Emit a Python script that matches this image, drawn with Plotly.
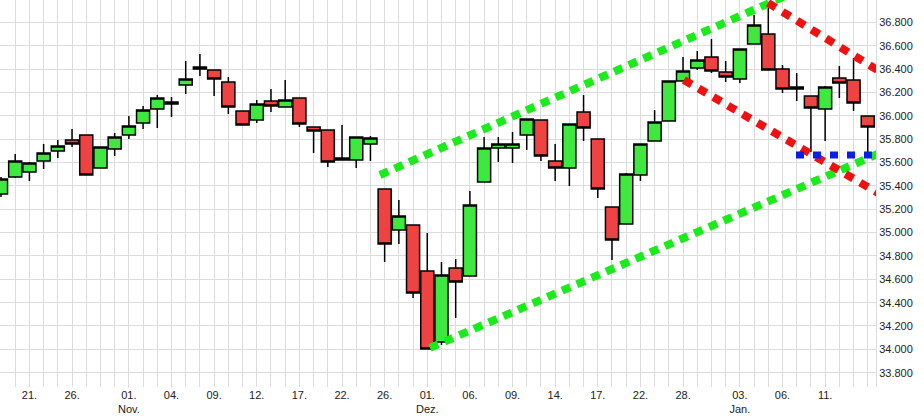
import plotly.graph_objects as go

# Trading days (Dow Jones, Oct 2021 - Jan 2022)
dates = [
    "2021-10-19", "2021-10-20", "2021-10-21", "2021-10-22", "2021-10-25", "2021-10-26",
    "2021-10-27", "2021-10-28", "2021-10-29",
    "2021-11-01", "2021-11-02", "2021-11-03", "2021-11-04", "2021-11-05", "2021-11-08",
    "2021-11-09", "2021-11-10", "2021-11-11", "2021-11-12", "2021-11-15", "2021-11-16",
    "2021-11-17", "2021-11-18", "2021-11-19", "2021-11-22", "2021-11-23", "2021-11-24",
    "2021-11-26", "2021-11-29", "2021-11-30",
    "2021-12-01", "2021-12-02", "2021-12-03", "2021-12-06", "2021-12-07", "2021-12-08",
    "2021-12-09", "2021-12-10", "2021-12-13", "2021-12-14", "2021-12-15", "2021-12-16",
    "2021-12-17", "2021-12-20", "2021-12-21", "2021-12-22", "2021-12-23", "2021-12-27",
    "2021-12-28", "2021-12-29", "2021-12-30", "2021-12-31",
    "2022-01-03", "2022-01-04", "2022-01-05", "2022-01-06", "2022-01-07", "2022-01-10",
    "2022-01-11", "2022-01-12", "2022-01-13", "2022-01-14",
]

open_ = [
    35331, 35477, 35520, 35614, 35700, 35794, 35837, 35554, 35717,
    35837, 35940, 36060, 36103, 36266, 36403, 36394, 36291, 36043, 35966, 36129, 36077,
    36154, 35906, 35880, 35640, 35623, 35760, 35374, 35023, 35066,
    34671, 34063, 34697, 34629, 35434, 35726, 35726, 35837, 35966, 35614, 35554, 36034,
    35803, 35220, 35074, 35494, 35786, 35957, 36300, 36411, 36506, 36377,
    36317, 36617, 36703, 36403, 36249, 36171, 36060, 36326, 36309, 36000,
]
high = [
    35477, 35674, 35606, 35760, 35794, 35889, 35837, 35734, 35854,
    36000, 36086, 36180, 36163, 36471, 36531, 36394, 36334, 36043, 36137, 36232, 36309,
    36154, 35906, 35880, 35923, 35820, 35829, 35374, 35280, 35066,
    34997, 34749, 34774, 35357, 35820, 35820, 35863, 35974, 35966, 35760, 35931, 36180,
    35803, 35220, 35511, 35760, 36051, 36300, 36506, 36557, 36660, 36471,
    36574, 36866, 36926, 36437, 36369, 36171, 36257, 36429, 36497, 36000,
]
low = [
    35306, 35469, 35443, 35546, 35640, 35734, 35494, 35554, 35657,
    35803, 35889, 35897, 35991, 36189, 36343, 36171, 36017, 35923, 35940, 36034, 36077,
    35906, 35683, 35563, 35623, 35554, 35614, 34749, 34903, 34440,
    34003, 34037, 34269, 34629, 35434, 35606, 35597, 35709, 35614, 35443, 35400, 35786,
    35297, 34766, 35074, 35443, 35786, 35957, 36300, 36394, 36369, 36291,
    36283, 36617, 36394, 36197, 36129, 35691, 35786, 36154, 36043, 35666,
]
close = [
    35460, 35614, 35597, 35683, 35743, 35760, 35494, 35734, 35820,
    35914, 36051, 36154, 36120, 36317, 36420, 36317, 36077, 35923, 36103, 36086, 36137,
    35931, 35871, 35606, 35623, 35820, 35811, 34903, 35143, 34483,
    34003, 34637, 34577, 35237, 35726, 35760, 35760, 35974, 35657, 35554, 35931, 35897,
    35374, 34937, 35503, 35760, 35949, 36300, 36386, 36480, 36386, 36334,
    36574, 36780, 36394, 36232, 36232, 36069, 36249, 36283, 36111, 35906,
]

# Tick labels on the date axis
tick_labels = {
    "2021-10-21": "21.", "2021-10-26": "26.", "2021-11-01": "01.<br>Nov.",
    "2021-11-04": "04.", "2021-11-09": "09.", "2021-11-12": "12.",
    "2021-11-17": "17.", "2021-11-22": "22.", "2021-11-26": "26.",
    "2021-12-01": "01.<br>Dez.", "2021-12-06": "06.", "2021-12-09": "09.",
    "2021-12-14": "14.", "2021-12-17": "17.", "2021-12-22": "22.",
    "2021-12-28": "28.", "2022-01-03": "03.<br>Jan.", "2022-01-06": "06.",
    "2022-01-11": "11.",
}
y_ticks = [33800, 34000, 34200, 34400, 34600, 34800, 35000, 35200, 35400,
           35600, 35800, 36000, 36200, 36400, 36600, 36800]

# Trend lines: (start index, start price, end index, end price)
green_upper = [26.67, 35494, 55.52, 37046]
green_lower = [30.19, 34012, 61.86, 35683]
red_upper = [53.98, 36969, 63.05, 36292]
red_lower = [48.06, 36309, 61.72, 35340]
blue_support = [55.95, 35666, 61.55, 35666]

idx = list(range(len(dates)))

fig = go.Figure()
fig.add_trace(go.Candlestick(
    x=idx, open=open_, high=high, low=low, close=close,
    increasing=dict(fillcolor="#3ee83e", line=dict(color="#000000", width=1.5)),
    decreasing=dict(fillcolor="#ef4343", line=dict(color="#000000", width=1.5)),
    whiskerwidth=0,
    hoverinfo="skip",
    showlegend=False,
))

def add_line(seg, color, width, dash):
    fig.add_trace(go.Scatter(
        x=[seg[0], seg[2]], y=[seg[1], seg[3]], mode="lines",
        line=dict(color=color, width=width, dash=dash),
        hoverinfo="skip", showlegend=False,
    ))

add_line(green_upper, "#1aeb1a", 8, "9px,7px")
add_line(green_lower, "#1aeb1a", 8, "9px,7px")
add_line(red_upper, "#f01010", 8, "9px,8px")
add_line(red_lower, "#f01010", 8, "9px,8px")
add_line(blue_support, "#0a1ee6", 7, "8px,9px")

ticktext = [tick_labels.get(d, "") for d in dates]

fig.update_layout(
    width=924, height=419,
    margin=dict(l=0, r=48, t=0, b=32),
    paper_bgcolor="white", plot_bgcolor="white",
    separators=",.",
    boxgap=0.08, boxgroupgap=0,
    font=dict(family="Liberation Sans Narrow, Liberation Sans, Arial", size=11, color="#222222"),
    xaxis=dict(
        range=[-0.07, 61.58],
        tickmode="array", tickvals=idx, ticktext=ticktext,
        showgrid=True, gridcolor="#dcdcdc", gridwidth=1,
        zeroline=False, showline=False, ticks="",
        automargin=False,
        rangeslider=dict(visible=False),
        tickfont=dict(family="Liberation Sans Narrow, Liberation Sans, Arial", size=11),
    ),
    yaxis=dict(
        side="right",
        range=[33677, 36994],
        tickmode="array", tickvals=y_ticks,
        tickformat=",d",
        showgrid=True, gridcolor="#dcdcdc", gridwidth=1,
        zeroline=False, showline=True, linecolor="#dcdcdc", ticks="",
        automargin=False,
        tickfont=dict(family="Liberation Sans, Arial", size=11),
    ),
)

fig.write_html(
    "out.html",
    config={"displayModeBar": False},
    post_script="document.body.style.margin='0px';document.body.style.overflow='hidden';",
)
